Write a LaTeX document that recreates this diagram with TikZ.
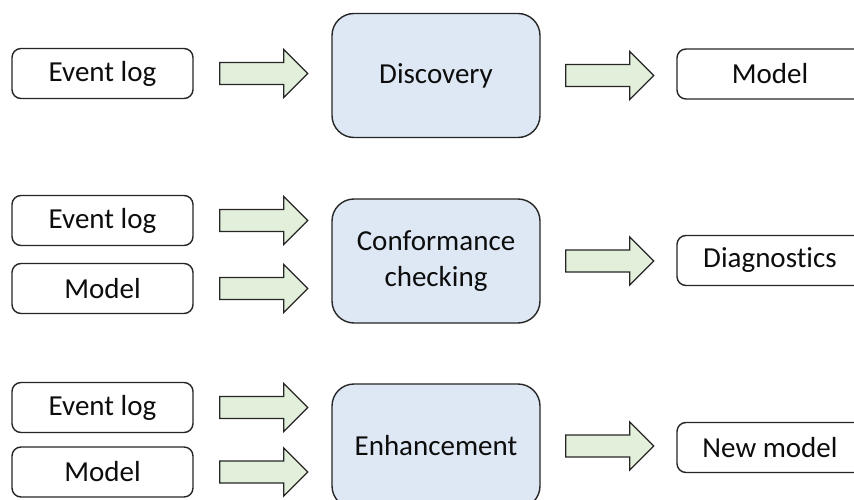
\documentclass[tikz,border=0pt]{standalone}
\usepackage{fontspec}
\setmainfont[Ligatures=NoCommon]{Carlito}
\usetikzlibrary{calc}
\definecolor{linec}{HTML}{262626}
\definecolor{textc}{HTML}{0D0D0D}
\definecolor{bluec}{HTML}{DEE8F4}
\definecolor{greenc}{HTML}{E2EFDA}
\tikzset{
  smallbox/.style={draw=linec, line width=1.4pt, rounded corners=9pt, minimum width=181pt,
    minimum height=50pt, fill=white, text=textc, inner sep=0pt, font=\fontsize{29}{35}\selectfont},
  rightbox/.style={smallbox, minimum width=186pt},
  bigbox/.style={draw=linec, line width=1.4pt, rounded corners=22pt, minimum width=208pt,
    minimum height=124pt, fill=bluec, text=textc, inner sep=0pt, align=center,
    font=\fontsize{29}{36}\selectfont},
  fat/.style={draw=linec, line width=1.3pt, fill=greenc, line join=miter}
}
\newcommand\fatarr[2]{\draw[fat] ($(#1.east)+(#2,-11)$) -- ++(64,0) -- ++(0,-13) -- ++(24,24)
  -- ++(-24,24) -- ++(0,-13) -- ++(-64,0) -- cycle;}
\begin{document}
\begin{tikzpicture}[x=1pt,y=-1pt]
\path[use as bounding box, clip] (0,0) rectangle (854,500);
\fill[white] (0,0) rectangle (854,500);
% row 1
\node[smallbox] (ev1) at (102.5,73.5) {Event log};
\node[bigbox] (disc) at (436,75.5) {Discovery};
\node[rightbox] (mod1) at (770,74) {Model};
% row 2
\node[smallbox] (ev2) at (102.5,220.5) {Event log};
\node[smallbox] (m2) at (102.5,288.5) {Model};
\node[bigbox] (conf) at (436,261) {Conformance\\checking};
\node[rightbox] (diag) at (770,260.5) {Diagnostics};
% row 3
\node[smallbox] (ev3) at (102.5,407.5) {Event log};
\node[smallbox] (m3) at (102.5,472) {Model};
\node[bigbox] (enh) at (436,446) {Enhancement};
\node[rightbox] (newm) at (770,447.5) {New model};
% arrows
\fatarr{ev1}{26}
\fatarr{disc}{25}
\fatarr{ev2}{26}
\fatarr{m2}{26}
\fatarr{conf}{25}
\fatarr{ev3}{26}
\fatarr{m3}{26}
\fatarr{enh}{25}
\end{tikzpicture}
\end{document}
